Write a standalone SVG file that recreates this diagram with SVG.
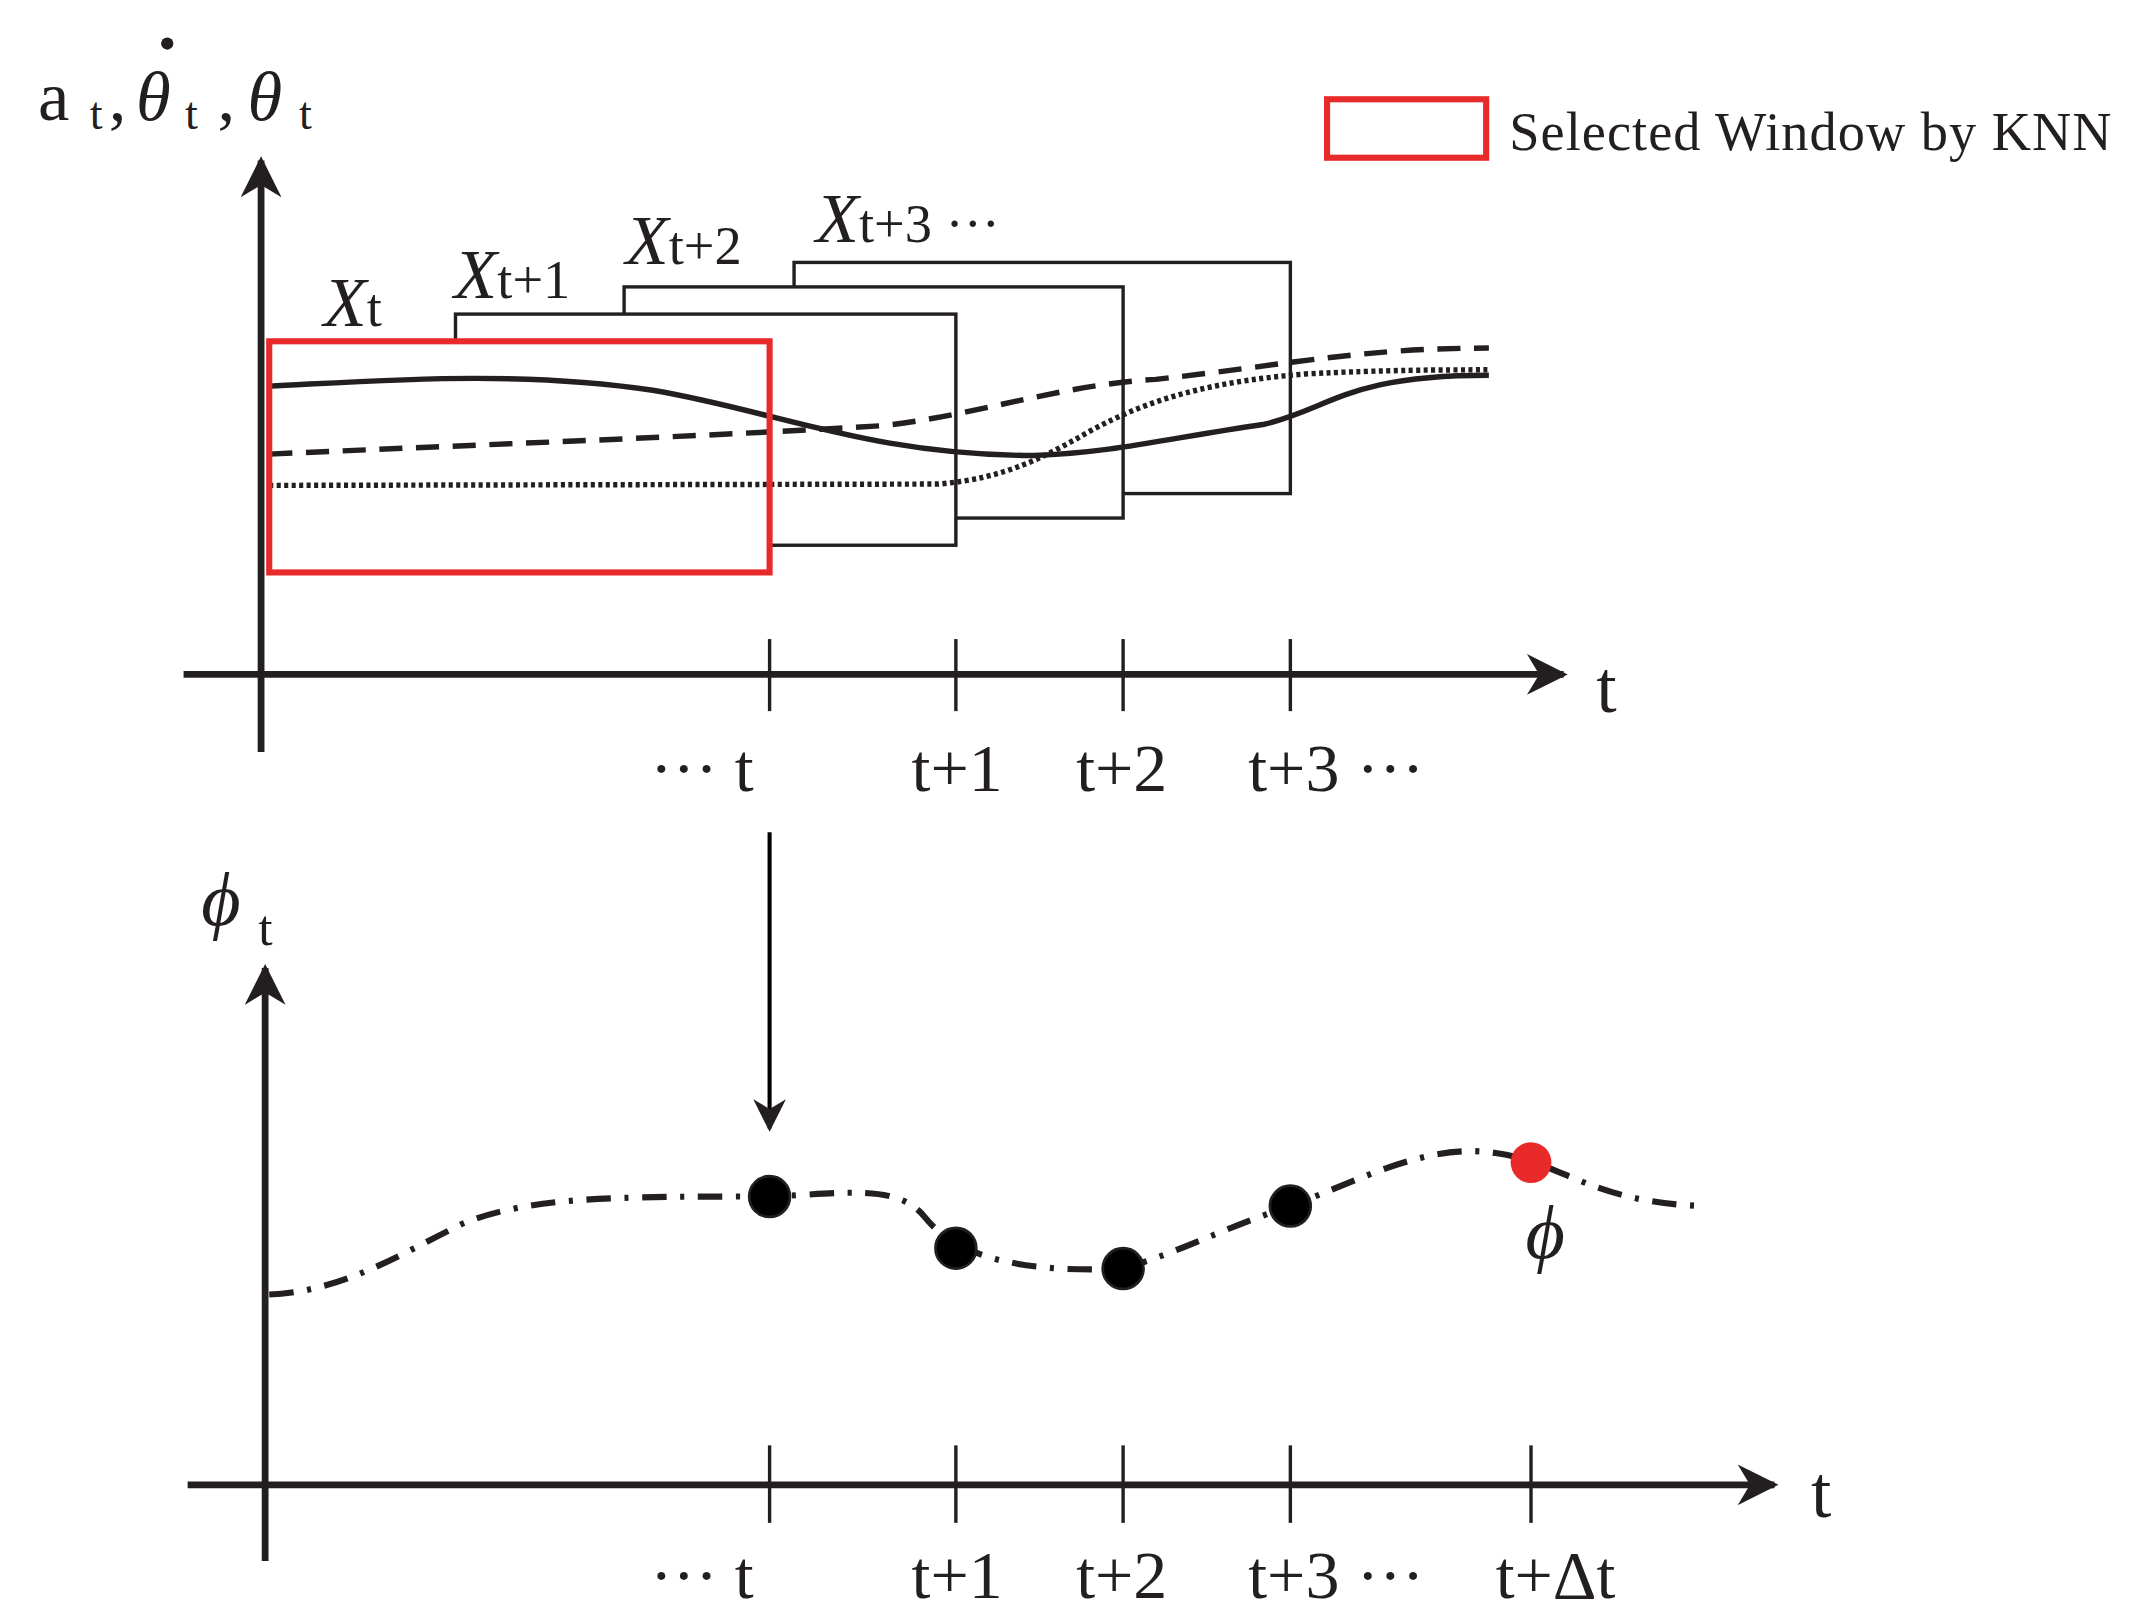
<svg xmlns="http://www.w3.org/2000/svg" width="2132" height="1622" viewBox="0 0 2132 1622">
<style>
.ax{stroke:#231f20;stroke-width:5;fill:none}
.tk{stroke:#231f20;stroke-width:2.5}
.win{fill:#fff;stroke:#231f20;stroke-width:2.5}
.red{fill:none;stroke:#e82a2a;stroke-width:4.5}
.tx{font-family:"Liberation Serif",serif;fill:#231f20}
.it{font-style:italic}
.dot{fill:#000;stroke:#231f20;stroke-width:2}
</style>
<defs>
<marker id="ah2" viewBox="0 0 10 10" refX="9" refY="5" markerWidth="8" markerHeight="6" orient="auto" markerUnits="strokeWidth"><path d="M0,0 L10,5 L0,10 L3,5 Z" fill="#231f20"/></marker>
<marker id="ah3" viewBox="0 0 10 10" refX="9" refY="5" markerWidth="12" markerHeight="8" orient="auto" markerUnits="strokeWidth"><path d="M0,0 L10,5 L0,10 L3,5 Z" fill="#231f20"/></marker>
</defs>
<rect width="2132" height="1622" fill="#fff"/>
<g transform="scale(1.3597)">
<g id="top-windows">
<rect class="win" x="584" y="193" width="365" height="170"/>
<rect class="win" x="459" y="211" width="367" height="170"/>
<rect class="win" x="335" y="231" width="368" height="170"/>
<rect x="198" y="251" width="368" height="170" fill="#fff"/>
</g>
<g id="top-curves">
<path d="M198,284 C280,280 380,272 480,287 C570,302 640,335 760,335 C820,333 860,322 930,312 C980,300 990,276 1095,276" fill="none" stroke="#231f20" stroke-width="4"/>
<path d="M198,334 C350,327 500,322 650,313 C720,305 780,283 850,279 C950,268 1000,256 1095,256" fill="none" stroke="#231f20" stroke-width="4" stroke-dasharray="17,10"/>
<path d="M198,357 L690,356 C740,352 770,335 800,318 C850,290 900,280 960,275 C1020,272 1060,272 1095,272" fill="none" stroke="#231f20" stroke-width="4" stroke-dasharray="3,2.5"/>
<rect class="red" x="198" y="251" width="368" height="170"/>
</g>
<g id="top-axes">
<line class="ax" x1="192" y1="553" x2="192" y2="118" marker-end="url(#ah2)"/>
<line class="ax" x1="135" y1="496" x2="1150" y2="496" marker-end="url(#ah2)"/>
<line class="tk" x1="566" y1="470" x2="566" y2="523"/>
<line class="tk" x1="703" y1="470" x2="703" y2="523"/>
<line class="tk" x1="826" y1="470" x2="826" y2="523"/>
<line class="tk" x1="949" y1="470" x2="949" y2="523"/>
</g>
<g id="top-labels">
<text class="tx" x="28" y="88" font-size="52">a</text>
<text class="tx" x="66" y="95" font-size="34">t</text>
<text class="tx" x="80" y="88" font-size="52">,</text>
<text class="tx it" x="100" y="88" font-size="52">θ</text>
<text class="tx" x="136" y="95" font-size="34">t</text>
<text class="tx" x="160" y="88" font-size="52">,</text>
<text class="tx it" x="182" y="88" font-size="52">θ</text>
<text class="tx" x="220" y="95" font-size="34">t</text>
<circle cx="123" cy="32" r="4.5" fill="#231f20"/>
<text class="tx it" x="238" y="240" font-size="52">X<tspan font-style="normal" font-size="40">t</tspan></text>
<text class="tx it" x="334" y="219" font-size="52">X<tspan font-style="normal" font-size="40">t+1</tspan></text>
<text class="tx it" x="460" y="194" font-size="52">X<tspan font-style="normal" font-size="40">t+2</tspan></text>
<text class="tx it" x="600" y="178" font-size="52">X<tspan font-style="normal" font-size="40">t+3 ···</tspan></text>
<text class="tx" x="1174" y="524" font-size="54">t</text>
<text class="tx" x="478" y="582" font-size="50">··· t</text>
<text class="tx" x="704" y="582" font-size="50" text-anchor="middle">t+1</text>
<text class="tx" x="825" y="582" font-size="50" text-anchor="middle">t+2</text>
<text class="tx" x="918" y="582" font-size="50">t+3 ···</text>
</g>
<g id="legend">
<rect class="red" x="976" y="73" width="117" height="43"/>
<text class="tx" x="1110" y="110" font-size="40" textLength="443">Selected Window by KNN</text>
</g>
<g id="connector">
<line x1="566" y1="612" x2="566" y2="830" stroke="#000" stroke-width="3" marker-end="url(#ah3)"/>
</g>
<g id="bottom-axes">
<line class="ax" x1="195" y1="1148" x2="195" y2="712" marker-end="url(#ah2)"/>
<line class="ax" x1="138" y1="1092" x2="1305" y2="1092" marker-end="url(#ah2)"/>
<line class="tk" x1="566" y1="1063" x2="566" y2="1120"/>
<line class="tk" x1="703" y1="1063" x2="703" y2="1120"/>
<line class="tk" x1="826" y1="1063" x2="826" y2="1120"/>
<line class="tk" x1="949" y1="1063" x2="949" y2="1120"/>
<line class="tk" x1="1126" y1="1063" x2="1126" y2="1120"/>
</g>
<g id="bottom-curve">
<path d="M198,952 C250,950 290,925 340,900 C390,880 450,880 566,880 C620,878 660,870 680,895 C700,920 740,937 826,933 C870,920 900,903 949,887 C1000,868 1050,840 1100,848 C1150,855 1170,885 1255,887" fill="none" stroke="#231f20" stroke-width="4.5" stroke-dasharray="18,10,3,10"/>
<circle class="dot" cx="566" cy="880" r="15"/>
<circle class="dot" cx="703" cy="918" r="15"/>
<circle class="dot" cx="826" cy="933" r="15"/>
<circle class="dot" cx="949" cy="887" r="15"/>
<circle cx="1126" cy="855" r="15" fill="#e82a2a"/>
</g>
<g id="bottom-labels">
<text class="tx it" x="148" y="680" font-size="56">ϕ</text>
<text class="tx" x="190" y="695" font-size="38">t</text>
<text class="tx it" x="1122" y="925" font-size="56">ϕ</text>
<text class="tx" x="1332" y="1116" font-size="54">t</text>
<text class="tx" x="478" y="1175" font-size="50">··· t</text>
<text class="tx" x="704" y="1175" font-size="50" text-anchor="middle">t+1</text>
<text class="tx" x="825" y="1175" font-size="50" text-anchor="middle">t+2</text>
<text class="tx" x="918" y="1175" font-size="50">t+3 ···</text>
<text class="tx" x="1100" y="1175" font-size="50">t+Δt</text>
</g>
</g>
</svg>
